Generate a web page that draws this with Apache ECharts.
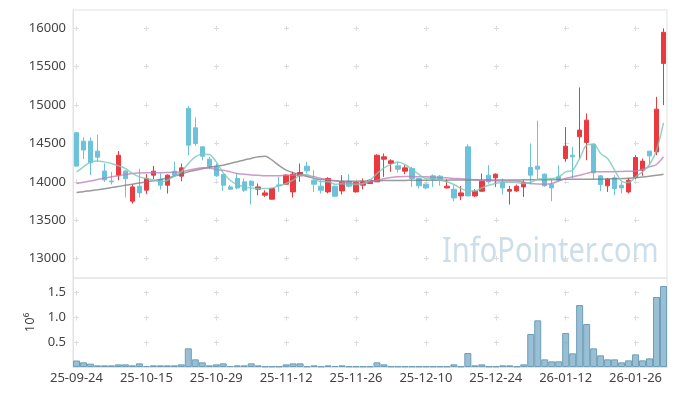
<!DOCTYPE html>
<html><head><meta charset="utf-8">
<script src="https://cdn.jsdelivr.net/npm/echarts@6/dist/echarts.min.js"></script>
<style>html,body{margin:0;padding:0;background:#fff}#c{width:677px;height:396px}</style>
</head><body><div id="c"></div>
<script>
const dates = ['25-09-24','25-09-25','25-09-26','25-09-29','25-09-30','25-10-01','25-10-02','25-10-10','25-10-13','25-10-14',
'25-10-15','25-10-16','25-10-17','25-10-20','25-10-21','25-10-22','25-10-23','25-10-24','25-10-27','25-10-28',
'25-10-29','25-10-30','25-10-31','25-11-03','25-11-04','25-11-05','25-11-06','25-11-07','25-11-10','25-11-11',
'25-11-12','25-11-13','25-11-14','25-11-17','25-11-18','25-11-19','25-11-20','25-11-21','25-11-24','25-11-25',
'25-11-26','25-11-27','25-11-28','25-12-01','25-12-02','25-12-03','25-12-04','25-12-05','25-12-08','25-12-09',
'25-12-10','25-12-11','25-12-12','25-12-15','25-12-16','25-12-17','25-12-18','25-12-19','25-12-22','25-12-23',
'25-12-24','25-12-26','25-12-29','25-12-30','26-01-02','26-01-05','26-01-06','26-01-07','26-01-08','26-01-09',
'26-01-12','26-01-13','26-01-14','26-01-15','26-01-16','26-01-19','26-01-20','26-01-21','26-01-22','26-01-23',
'26-01-26','26-01-27','26-01-28','26-01-29','26-01-30'];
const opens = [14640,14530,14530,14400,14140,14010,14087,14140,13747,13943,
13891,14087,14031,13956,14139,14074,14957,14704,14456,14295,
14204,14096,13934,14044,14000,14008,13904,13826,13774,13960,
13969,13869,14078,14204,14021,13943,13869,13943,13882,14008,
13869,13956,13978,14000,14295,14239,14208,14139,14174,14044,
13969,14078,14074,13921,13904,13817,14456,13817,13878,14087,
14052,13991,13878,13882,13934,14187,14204,14100,13965,14065,
14304,14347,14587,14513,14491,14078,13948,14052,13956,13869,
14056,14152,14400,14391,15543];
const closes = [14205,14415,14247,14320,14025,14000,14347,14040,13934,13856,
14044,14139,13956,14087,14087,14182,14478,14500,14334,14195,
14078,13956,13904,13921,13891,13948,13934,13856,13913,13950,
14087,14100,14122,14143,13969,13891,14044,13813,14000,13943,
13991,14000,14021,14347,14326,14274,14165,14182,14044,13948,
13921,14034,14034,13943,13791,13856,13817,13878,14008,14000,
14100,13921,13900,13943,13991,14087,14165,13948,13921,14021,
14465,14326,14674,14804,14117,13965,14034,13913,13921,14021,
14317,14270,14339,14947,15948];
const lows = [14195,14295,14087,14260,14000,13965,14021,13795,13717,13796,
13840,14034,13900,13848,14065,14008,14347,14469,14280,14165,
14065,13882,13895,13904,13869,13704,13826,13804,13770,13870,
13960,13796,14000,14109,13869,13848,13850,13800,13835,13926,
13860,13900,13970,14000,14065,14130,14122,14100,13934,13913,
13904,13934,13950,13915,13748,13761,13810,13804,13870,13978,
13934,13835,13704,13869,13804,13965,14034,13934,13748,14000,
14261,14044,14304,14282,14034,13878,13869,13826,13848,13848,
14034,14078,14217,14347,15000];
const highs = [14650,14580,14580,14615,14240,14130,14400,14150,13965,14170,
14100,14208,14110,14096,14261,14239,14990,14839,14460,14325,
14239,14100,13960,14109,14044,14021,13978,13891,13921,14065,
14100,14130,14239,14261,14152,14021,14060,13950,14087,14100,
14000,14044,14030,14360,14370,14295,14261,14217,14196,14050,
13978,14096,14087,14034,13956,13948,14487,13904,14109,14217,
14109,14044,13948,13965,14021,14500,14796,14109,14034,14217,
14713,14456,15230,14891,14500,14087,14052,14087,14000,14052,
14347,14304,14405,15108,16000];
const ma5 = [14130,14195,14260,14273,14260,14239,14208,14174,14109,14065,
14044,14021,14000,14021,14074,14130,14239,14326,14360,14356,
14260,14117,14021,13965,13934,13921,13913,13913,13921,13948,
13978,14021,14087,14096,14044,14000,14000,13970,13975,13965,
13965,13975,14021,14109,14182,14226,14260,14226,14165,14096,
14044,14044,14021,14000,13965,13913,13882,13882,13921,13956,
13978,13995,13995,13990,13978,13995,14034,14044,14044,14065,
14130,14152,14304,14478,14490,14370,14304,14152,14008,13991,
14065,14130,14226,14413,14769];
const ma20 = [13978,13995,14010,14030,14050,14065,14080,14095,14110,14115,
14118,14120,14120,14122,14125,14130,14150,14170,14185,14180,
14160,14150,14130,14110,14098,14090,14085,14080,14078,14080,
14085,14087,14087,14080,14065,14045,14030,14015,13995,13985,
13980,13978,14000,14020,14040,14055,14065,14068,14068,14066,
14065,14060,14055,14052,14045,14040,14034,14028,14022,14018,
14013,14010,14010,14010,13995,13978,13972,13970,13978,14010,
14044,14065,14087,14110,14130,14132,14130,14132,14135,14138,
14140,14165,14196,14226,14326];
const ma60 = [13861,13872,13885,13897,13910,13925,13940,13955,13970,13985,
14000,14015,14030,14050,14075,14100,14130,14150,14170,14190,
14204,14217,14240,14262,14285,14305,14326,14335,14282,14210,
14152,14120,14096,14070,14044,14030,14021,14015,14010,14008,
14008,14010,14013,14015,14016,14017,14018,14019,14020,14021,
14021,14022,14022,14022,14023,14023,14023,14024,14024,14024,
14024,14025,14025,14025,14026,14026,14027,14027,14028,14030,
14034,14034,14035,14035,14035,14035,14038,14040,14043,14047,
14052,14062,14072,14085,14100];
const volumes = [0.13,0.094,0.067,0.033,0.033,0.033,0.053,0.053,0.033,0.073,
0.02,0.033,0.033,0.033,0.033,0.053,0.373,0.153,0.093,0.033,
0.053,0.073,0.02,0.033,0.033,0.073,0.033,0.013,0.013,0.013,
0.053,0.073,0.073,0.013,0.033,0.013,0.033,0.02,0.033,0.013,
0.013,0.013,0.013,0.093,0.053,0.013,0.013,0.013,0.013,0.013,
0.013,0.013,0.013,0.013,0.053,0.013,0.28,0.033,0.053,0.013,
0.013,0.033,0.033,0.013,0.053,0.66,0.933,0.153,0.113,0.113,
0.68,0.273,1.24,0.86,0.373,0.233,0.153,0.153,0.093,0.133,
0.253,0.133,0.173,1.4,1.62];

const candleData = opens.map((o, i) => [o, closes[i], lows[i], highs[i]]);
const FONT = 'Noto Sans';
const labelStyle = {color: '#444', fontSize: 13, fontFamily: FONT};

const chart = echarts.init(document.getElementById('c'), null, {renderer: 'canvas'});
chart.setOption({
  animation: false,
  backgroundColor: '#fff',
  grid: [
    {left: 73, top: 10, width: 594, height: 268, show: true, borderColor: '#e2e2e2', borderWidth: 1},
    {left: 73, top: 278, width: 594, height: 89, show: true, borderColor: '#e2e2e2', borderWidth: 1}
  ],
  graphic: [{
    type: 'text', left: 442, top: 235, z: 0, scaleX: 0.83,
    style: {text: 'InfoPointer.com', fontSize: 35, fontFamily: FONT, fill: 'rgba(170,200,218,0.6)'}
  }],
  xAxis: [
    {type: 'category', gridIndex: 0, data: dates, boundaryGap: true,
     axisLine: {show: false}, axisTick: {show: false}, axisLabel: {show: false},
     splitLine: {show: true, interval: 9, alignWithLabel: true,
       lineStyle: {color: '#dcdcdc', width: 1, type: [5, 33.33], dashOffset: 22.5}}},
    {type: 'category', gridIndex: 1, data: dates, boundaryGap: true,
     axisLine: {show: true, lineStyle: {color: '#e2e2e2'}}, axisTick: {show: false},
     axisLabel: Object.assign({interval: 9, margin: 5}, labelStyle),
     splitLine: {show: true, interval: 9, alignWithLabel: true,
       lineStyle: {color: '#dcdcdc', width: 1, type: [5, 20], dashOffset: 12.5}}}
  ],
  yAxis: [
    {type: 'value', gridIndex: 0, min: 12747, max: 16239, splitNumber: 7, scale: true,
     axisLine: {show: true, lineStyle: {color: '#e2e2e2'}}, axisTick: {show: false},
     axisLabel: Object.assign({showMinLabel: false, showMaxLabel: false, margin: 7,
       formatter: v => String(Math.round(v))}, labelStyle),
     splitLine: {show: true, showMinLine: false, showMaxLine: false,
       lineStyle: {color: '#dcdcdc', width: 1, type: [5, 65], dashOffset: 69}}},
    {type: 'value', gridIndex: 1, min: 0, max: 1.78, interval: 0.5,
     name: '10⁶', nameLocation: 'middle', nameRotate: 90, nameGap: 36,
     nameTextStyle: {color: '#444', fontSize: 13, fontFamily: FONT},
     axisLine: {show: true, lineStyle: {color: '#e2e2e2'}}, axisTick: {show: false},
     axisLabel: Object.assign({showMinLabel: false, showMaxLabel: false, margin: 7,
       formatter: v => v.toFixed(1)}, labelStyle),
     splitLine: {show: true, showMinLine: false, showMaxLine: false,
       lineStyle: {color: '#dcdcdc', width: 1, type: [5, 65], dashOffset: 69}}}
  ],
  series: [
    {type: 'candlestick', xAxisIndex: 0, yAxisIndex: 0, data: candleData, barWidth: '70%', z: 3,
     itemStyle: {color: '#ea3a40', color0: '#6cc2da', borderColor: '#ea3a40', borderColor0: '#6cc2da', borderWidth: 1}},
    {type: 'line', xAxisIndex: 0, yAxisIndex: 0, data: ma60, symbol: 'none', smooth: 0.3, z: 4,
     lineStyle: {color: 'rgba(120,120,120,0.75)', width: 1.5}},
    {type: 'line', xAxisIndex: 0, yAxisIndex: 0, data: ma20, symbol: 'none', smooth: 0.3, z: 4,
     lineStyle: {color: 'rgba(190,120,185,0.75)', width: 1.5}},
    {type: 'line', xAxisIndex: 0, yAxisIndex: 0, data: ma5, symbol: 'none', smooth: 0.3, z: 4,
     lineStyle: {color: 'rgba(120,200,185,0.8)', width: 1.5}},
    {type: 'bar', xAxisIndex: 1, yAxisIndex: 1, data: volumes, barWidth: '100%', barCategoryGap: '0%',
     itemStyle: {color: 'rgba(125,172,198,0.78)', borderColor: '#6d9fb8', borderWidth: 1}}
  ]
});
</script></body></html>
